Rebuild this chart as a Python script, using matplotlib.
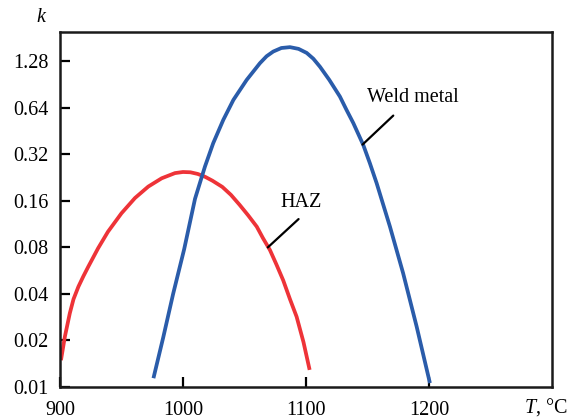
import matplotlib
matplotlib.use("Agg")
from matplotlib import pyplot
import numpy as np

pyplot.rcParams["font.family"] = ["Liberation Serif", "DejaVu Serif"]
pyplot.rcParams["mathtext.fontset"] = "custom"
pyplot.rcParams["mathtext.it"] = "Liberation Serif:italic"
pyplot.rcParams["mathtext.rm"] = "Liberation Serif"

# values
haz_t = [900.8, 904, 908, 911, 915, 919, 923, 931, 939, 950, 961, 971.8, 982.7, 993.5, 1000, 1006, 1012, 1018, 1024, 1032, 1039, 1046, 1053, 1060, 1065, 1070.7, 1076, 1081.5, 1087, 1092.4, 1098, 1103]
haz_k = [0.0149, 0.0212, 0.030, 0.037, 0.0446, 0.052, 0.060, 0.079, 0.101, 0.133, 0.167, 0.198, 0.224, 0.242, 0.246, 0.245, 0.239, 0.229, 0.216, 0.197, 0.175, 0.151, 0.129, 0.109, 0.092, 0.077, 0.062, 0.049, 0.037, 0.0285, 0.0195, 0.0129]

weld_t = [976, 984, 992, 1001, 1009.8, 1017.9, 1024.6, 1032.8, 1041, 1051.8, 1062.6, 1068, 1073.4, 1080, 1087, 1094, 1100.6, 1106, 1111.4, 1119, 1127.6, 1133, 1138.5, 1146.6, 1152, 1157.5, 1168.3, 1179, 1190, 1200.8]
weld_k = [0.0114, 0.021, 0.040, 0.078, 0.165, 0.267, 0.378, 0.535, 0.72, 0.97, 1.245, 1.38, 1.48, 1.56, 1.58, 1.54, 1.45, 1.33, 1.18, 0.97, 0.757, 0.62, 0.51, 0.368, 0.28, 0.208, 0.109, 0.0545, 0.0246, 0.0106]

xticks = [900, 1000, 1100, 1200]
yticks = [0.01, 0.02, 0.04, 0.08, 0.16, 0.32, 0.64, 1.28]
ytick_labels = ["0.01", "0.02", "0.04", "0.08", "0.16", "0.32", "0.64", "1.28"]

fig = pyplot.figure(figsize=(5.69, 4.2), dpi=100)
ax = fig.add_axes([0.1054, 0.0786, 0.8646, 0.8452])

ax.plot(haz_t, haz_k, color="#ee3338", lw=2.7, solid_capstyle="butt", solid_joinstyle="round")
ax.plot(weld_t, weld_k, color="#2a5caa", lw=2.7, solid_capstyle="butt", solid_joinstyle="round")

ax.set_yscale("log", base=2)
ax.set_xlim(900, 1300)
ax.set_ylim(0.01, 1.98)

ax.set_xticks(xticks)
ax.set_xticklabels([str(t) for t in xticks])
ax.set_yticks(yticks)
ax.set_yticklabels(ytick_labels)
ax.yaxis.set_minor_locator(matplotlib.ticker.NullLocator())

ax.tick_params(direction="in", length=7, width=1.6, labelsize=14.5, pad=8)
ax.tick_params(axis="x", pad=10)
for s in ax.spines.values():
	s.set_linewidth(1.8)
	s.set_color("#1a1a1a")

# leader lines and labels
ax.annotate("", xy=(1069, 0.08), xytext=(1094, 0.122),
	arrowprops=dict(arrowstyle="-", color="black", lw=1.6, shrinkA=0, shrinkB=0))
ax.text(1096, 0.157, "HAZ", ha="center", va="center", fontsize=14.5)

ax.annotate("", xy=(1146, 0.37), xytext=(1171, 0.57),
	arrowprops=dict(arrowstyle="-", color="black", lw=1.6, shrinkA=0, shrinkB=0))
ax.text(1187, 0.75, "Weld metal", ha="center", va="center", fontsize=14.5)

fig.text(42/569, 1-18/420, "$k$", ha="center", va="center", fontsize=14.5)
fig.text(546/569, 1-407/420, "$T$, °C", ha="center", va="center", fontsize=14.5)

fig.savefig("out.png", dpi=100)
